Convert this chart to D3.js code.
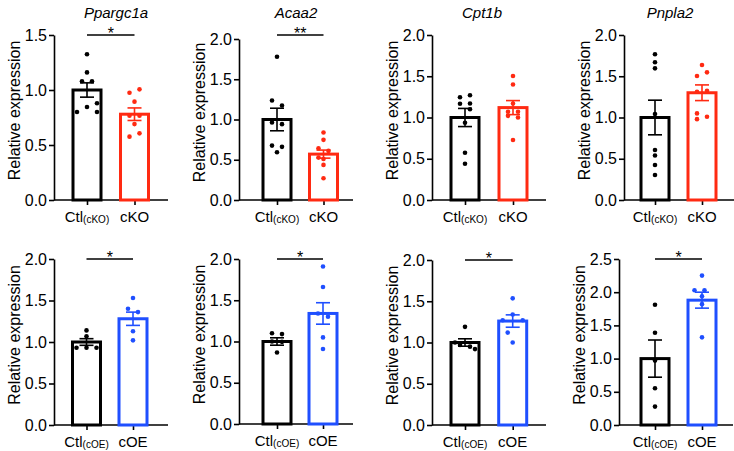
<!DOCTYPE html>
<html><head><meta charset="utf-8">
<script src="https://cdn.jsdelivr.net/npm/d3@7"></script>
<style>
body{margin:0;background:#fff}
svg{display:block}
text{font-family:"Liberation Sans",Arial,Helvetica,sans-serif}
</style>
</head><body>
<svg id="chart" width="734" height="451"></svg>
<script>
// ---------- data ----------
const genes = ["Ppargc1a","Acaa2","Cpt1b","Pnpla2","","","",""];
const ctlLabels = ["Ctl","Ctl","Ctl","Ctl","Ctl","Ctl","Ctl","Ctl"];
const ctlSubs = ["(cKO)","(cKO)","(cKO)","(cKO)","(cOE)","(cOE)","(cOE)","(cOE)"];
const expLabels = ["cKO","cKO","cKO","cKO","cOE","cOE","cOE","cOE"];
const yMaxes = [1.5,2.0,2.0,2.0,2.0,2.0,2.0,2.5];

const ctlValues = [
  [1.325,1.16,1.08,1.08,0.845,0.88,0.80,0.80],
  [1.78,1.236,1.174,0.962,0.942,0.676,0.66,0.593],
  [1.27,1.245,1.17,1.167,1.10,0.937,0.573,0.44],
  [1.766,1.67,1.596,1.042,0.606,0.54,0.424,0.303],
  [1.14,1.07,0.93,0.93,0.93],
  [1.10,1.09,1.0,0.996,0.867],
  [1.19,1.0,0.97,0.95,0.92],
  [1.81,1.39,0.97,0.553,0.277]
];
const ctlSlots = [
  [0,0,-1,1,0,2,-2,2],
  [0,-1,1,-1,1,-1,1,0],
  [1,-1,1,-1,1,0,0,0],
  [0,0,0,0,0,0,0,0],
  [0,0,-2,0,2],
  [-1,1,-1,1,0],
  [0,-2,-1,1,2],
  [0,0,0,0,0]
];
const expValues = [
  [1.006,0.975,0.894,0.766,0.766,0.69,0.606,0.576],
  [0.838,0.747,0.643,0.61,0.527,0.51,0.436,0.27],
  [1.503,1.40,1.17,1.07,1.07,1.02,1.0,0.727],
  [1.636,1.547,1.503,1.325,1.313,1.05,1.01,0.98],
  [1.53,1.40,1.36,1.13,1.02],
  [1.91,1.66,1.34,1.30,1.05,0.91],
  [1.535,1.34,1.27,1.27,1.12,1.0],
  [2.25,2.03,2.03,1.94,1.82,1.32]
];
const expSlots = [
  [1,-1,0,-1,1,0,1,-1],
  [0,0,-1,1,-1,0,0,0],
  [0,0,0,-1,1,-1,1,0],
  [0,1,-1,1,-1,-1,1,-1],
  [0,-1,1,0,0],
  [0,0,-1,1,0,0],
  [0,0,-2,2,-1,0],
  [0,-1.5,0.5,0,0,0]
];
const ctlMeans = [1.0,1.0,1.0,1.0,1.0,1.0,1.0,1.0];
const ctlSems  = [0.065,0.14,0.11,0.21,0.04,0.045,0.045,0.28];
const expMeans = [0.78,0.57,1.12,1.30,1.28,1.34,1.26,1.88];
const expSems  = [0.057,0.05,0.085,0.095,0.08,0.13,0.075,0.12];
const sigLabels = ["*","**","","","*","*","*","*"];
const sigLevels = [1.5,2.05,null,null,2.0,2.0,2.0,2.5];

// ---------- layout ----------
const axisLeft = [54,239,432,624,54,239,432,619];
const plotTop  = [35,39,35,35,259,259,260,259];
const plotBot  = [200,200,200,200,425,424,425,425];
const ctlX = [87,277,465,655,86.5,277,465,655];
const expX = [134.5,323.5,513,702,133,323,512.7,702];
const titleX = [116,296,482,670];
const expColors = ["#ff2a12","#ff2a12","#ff2a12","#ff2a12","#1f4fff","#1f4fff","#1f4fff","#1f4fff"];
const slotW = 5, barW = 28, capW = 14, dotR = 2.3;

const svg = d3.select("#chart");

for (let i = 0; i < 8; i++) {
  const g = svg.append("g");
  const y = d3.scaleLinear().domain([0, yMaxes[i]]).range([plotBot[i], plotTop[i]]);
  const x = d3.scalePoint().domain(["ctl","exp"]).range([ctlX[i], expX[i]]);
  const xEnd = Math.min(axisLeft[i] + 114, 734);

  // y axis
  const ya = g.append("g").attr("transform", `translate(${axisLeft[i]},0)`)
    .call(d3.axisLeft(y).tickValues(d3.range(0, yMaxes[i] + 0.001, 0.5))
      .tickFormat(d3.format(".1f")).tickSize(5).tickSizeOuter(0).tickPadding(2));
  ya.selectAll("path,line").attr("stroke","#000").attr("stroke-width",1.6);
  ya.selectAll("text").attr("font-size",16).attr("fill","#000")
    .attr("font-family","'Liberation Sans',Arial,sans-serif");

  // x axis line
  g.append("line").attr("x1", axisLeft[i]).attr("x2", xEnd)
    .attr("y1", y(0)).attr("y2", y(0)).attr("stroke","#000").attr("stroke-width",1.6);
  const xa = g.append("g").attr("transform", `translate(0,${y(0)})`)
    .call(d3.axisBottom(x).tickSize(5).tickSizeOuter(0).tickFormat(""));
  xa.select(".domain").remove();
  xa.selectAll("line").attr("stroke","#000").attr("stroke-width",1.6);

  // x labels
  const lt = g.append("text").attr("x", x("ctl")).attr("y", y(0) + 22)
    .attr("text-anchor","middle").attr("font-size",15).attr("fill","#000");
  lt.append("tspan").text(ctlLabels[i]);
  lt.append("tspan").attr("font-size",10).attr("dy",1).text(ctlSubs[i]);
  g.append("text").attr("x", x("exp")).attr("y", y(0) + 22)
    .attr("text-anchor","middle").attr("font-size",15).attr("fill","#000").text(expLabels[i]);

  // y label
  const ly = (plotTop[i] + plotBot[i]) / 2 - 7;
  g.append("text").attr("transform", `translate(${axisLeft[i] - 40},${ly}) rotate(-90)`)
    .attr("text-anchor","middle").attr("dy","0.35em").attr("font-size",16).attr("fill","#000")
    .text("Relative expression");

  // title
  if (genes[i]) {
    g.append("text").attr("x", titleX[i]).attr("y", 18).attr("text-anchor","middle")
      .attr("font-size",15).attr("font-style","italic").attr("fill","#000").text(genes[i]);
  }

  const groupsData = [
    {key:"ctl", mean:ctlMeans[i], sem:ctlSems[i], vals:ctlValues[i], slots:ctlSlots[i], color:"#000"},
    {key:"exp", mean:expMeans[i], sem:expSems[i], vals:expValues[i], slots:expSlots[i], color:expColors[i]}
  ];

  groupsData.forEach(gd => {
    const cx = x(gd.key);
    g.append("rect").attr("x", cx - barW/2).attr("y", y(gd.mean))
      .attr("width", barW).attr("height", y(0) - y(gd.mean))
      .attr("fill","#fff").attr("stroke", gd.color).attr("stroke-width",3);
    // error bar
    const eb = g.append("g").attr("stroke", gd.color).attr("stroke-width",1.6);
    eb.append("line").attr("x1",cx).attr("x2",cx).attr("y1",y(gd.mean+gd.sem)).attr("y2",y(gd.mean-gd.sem));
    eb.append("line").attr("x1",cx-capW/2).attr("x2",cx+capW/2).attr("y1",y(gd.mean+gd.sem)).attr("y2",y(gd.mean+gd.sem));
    eb.append("line").attr("x1",cx-capW/2).attr("x2",cx+capW/2).attr("y1",y(gd.mean-gd.sem)).attr("y2",y(gd.mean-gd.sem));
    // dots
    g.append("g").selectAll("circle").data(gd.vals).join("circle")
      .attr("cx", (d,j) => cx + gd.slots[j]*slotW)
      .attr("cy", d => y(d)).attr("r", dotR).attr("fill", gd.color);
  });

  // significance
  if (sigLabels[i]) {
    const sy = y(sigLevels[i]);
    g.append("line").attr("x1", x("ctl")).attr("x2", x("exp")).attr("y1", sy).attr("y2", sy)
      .attr("stroke","#000").attr("stroke-width",1.6);
    g.append("text").attr("x",(x("ctl")+x("exp"))/2).attr("y", sy + 4)
      .attr("text-anchor","middle").attr("font-size",16).attr("fill","#000").text(sigLabels[i]);
  }
}
</script>
</body></html>
